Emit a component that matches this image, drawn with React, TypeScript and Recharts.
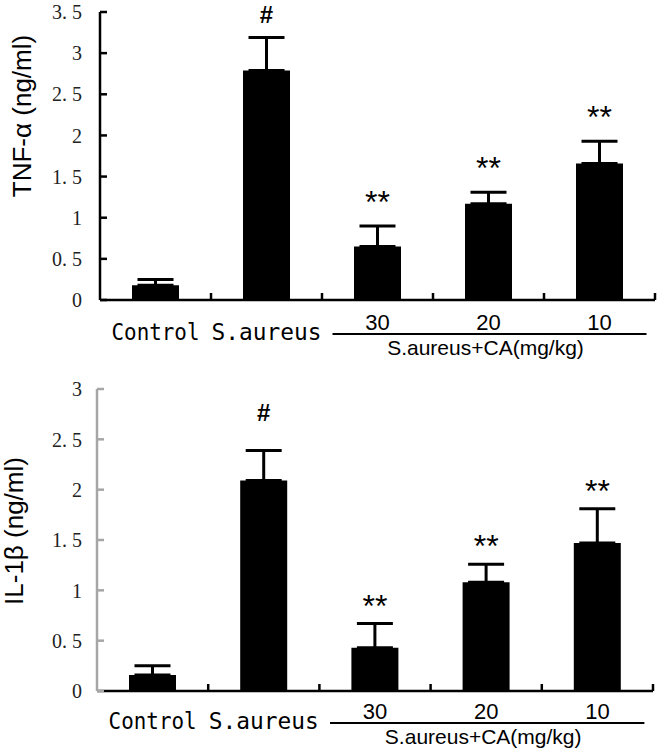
import React from "react";
import {
  ComposedChart,
  Bar,
  Line,
  ErrorBar,
  XAxis,
  YAxis,
  LabelList,
} from "recharts";

// groups on the x axis
const categories = ["Control", "S.aureus", "30", "20", "10"];
const groupLabel = "S.aureus+CA(mg/kg)";

// TNF-α panel
const tnfMean = [0.18, 2.79, 0.65, 1.17, 1.66];
const tnfErr = [0.07, 0.4, 0.25, 0.14, 0.27];
const tnfMarks = ["", "#", "**", "**", "**"];
const tnfTicks = [0, 0.5, 1, 1.5, 2, 2.5, 3, 3.5];

// IL-1β panel
const il1Mean = [0.16, 2.09, 0.43, 1.08, 1.47];
const il1Err = [0.09, 0.3, 0.24, 0.18, 0.34];
const il1Marks = ["", "#", "**", "**", "**"];
const il1Ticks = [0, 0.5, 1, 1.5, 2, 2.5, 3];

const buildRows = (mean: number[], err: number[], marks: string[]) =>
  categories.map((name, i) => ({
    name,
    value: mean[i],
    err: [0, err[i]],
    top: mean[i] + err[i],
    mark: marks[i],
  }));

// x tick: label, separator tick, and the bracket under the dose groups
const CategoryTick = (props: any) => {
  const { x, y, payload, index, band, nameDy, numDy, lineDy, groupDy } = props;
  const v = String(payload.value);
  const half = band / 2;
  const isName = index < 2;
  return (
    <g>
      <line x1={x + half} x2={x + half} y1={y} y2={y - 7} stroke="#000" strokeWidth={2.5} />
      {isName ? (
        <text
          x={x}
          y={y + nameDy}
          textAnchor="middle"
          fontFamily="'DejaVu Sans Mono', monospace"
          fontSize={23}
          textLength={v.length === 7 ? 88 : 110}
          lengthAdjust="spacingAndGlyphs"
          fill="#000"
        >
          {v}
        </text>
      ) : (
        <text
          x={x}
          y={y + numDy}
          textAnchor="middle"
          fontFamily="'Liberation Sans', Arial, sans-serif"
          fontSize={22}
          fill="#000"
        >
          {v}
        </text>
      )}
      {index === 3 && (
        <g>
          <line
            x1={x - band - 45}
            x2={x + band + 47}
            y1={y + lineDy}
            y2={y + lineDy}
            stroke="#000"
            strokeWidth={2}
          />
          <text
            x={x - 3}
            y={y + groupDy}
            textAnchor="middle"
            fontFamily="'Liberation Sans', Arial, sans-serif"
            fontSize={21}
            fill="#000"
          >
            {groupLabel}
          </text>
        </g>
      )}
    </g>
  );
};

const ValueTick = (props: any) => {
  const { x, y, payload, gap, color } = props;
  const parts = String(payload.value).split(".");
  return (
    <g>
      <line x1={x} x2={x + 7} y1={y} y2={y} stroke={color} strokeWidth={2.5} />
      <text
        x={x - gap}
        y={y}
        dy="0.36em"
        textAnchor="end"
        fontFamily="'Liberation Serif', serif"
        fontSize={20}
        fill="#222"
      >
        {parts.length > 1 ? (
          <>
            {parts[0] + "."}
            <tspan dx={5}>{parts[1]}</tspan>
          </>
        ) : (
          parts[0]
        )}
      </text>
    </g>
  );
};

const AxisTitle = (props: any) => {
  const { text, cx, cy } = props;
  return (
    <text
      x={cx}
      y={cy}
      transform={`rotate(-90 ${cx} ${cy})`}
      textAnchor="middle"
      dominantBaseline="central"
      fontFamily="'Liberation Sans', Arial, sans-serif"
      fontSize={26}
      fill="#000"
    >
      {text}
    </text>
  );
};

const markContent = (hashOff: number, starOff: number) => (props: any) => {
  const { x, y, value } = props;
  if (!value) return null;
  if (value === "#") {
    return (
      <text x={x} y={y - hashOff + 8.5} textAnchor="middle" fontFamily="'Liberation Sans', Arial, sans-serif" fontSize={24} fontWeight="bold" fill="#000">
        {value}
      </text>
    );
  }
  return (
    <text x={x} y={y - starOff + 18} textAnchor="middle" fontFamily="'Liberation Sans', Arial, sans-serif" fontSize={32} fill="#000">
      {value}
    </text>
  );
};

interface PanelProps {
  rows: any[];
  ticks: number[];
  title: string;
  height: number;
  top: number;
  left: number;
  right: number;
  xHeight: number;
  yColor: string;
  tickGap: number;
  titleX: number;
  titleY: number;
  hashOff: number;
  starOff: number;
  nameDy: number;
  numDy: number;
  lineDy: number;
  groupDy: number;
}

const Panel = (p: PanelProps) => {
  const band = (661 - p.left - p.right) / categories.length;
  return (
    <ComposedChart
      width={661}
      height={p.height}
      data={p.rows}
      margin={{ top: p.top, right: p.right, bottom: 0, left: 0 }}
    >
      <XAxis
        dataKey="name"
        height={p.xHeight}
        axisLine={{ stroke: "#000", strokeWidth: 2.5 }}
        tickLine={false}
        tickSize={0}
        tickMargin={0}
        interval={0}
        tick={(t: any) => (
          <CategoryTick
            {...t}
            band={band}
            nameDy={p.nameDy}
            numDy={p.numDy}
            lineDy={p.lineDy}
            groupDy={p.groupDy}
          />
        )}
      />
      <YAxis
        width={p.left}
        domain={[0, p.ticks[p.ticks.length - 1]]}
        ticks={p.ticks}
        interval={0}
        axisLine={{ stroke: p.yColor, strokeWidth: 2.5 }}
        tickLine={false}
        tickSize={0}
        tickMargin={0}
        tick={(t: any) => <ValueTick {...t} gap={p.tickGap} color={p.yColor} />}
        label={<AxisTitle text={p.title} cx={p.titleX} cy={p.titleY} />}
      />
      <Bar dataKey="value" fill="#000" barSize={47} isAnimationActive={false}>
        <ErrorBar
          dataKey="err"
          direction="y"
          width={18}
          stroke="#000"
          strokeWidth={3}
          isAnimationActive={false}
        />
      </Bar>
      <Line
        dataKey="top"
        stroke="none"
        dot={false}
        activeDot={false}
        legendType="none"
        isAnimationActive={false}
      >
        <LabelList dataKey="mark" content={markContent(p.hashOff, p.starOff)} />
      </Line>
    </ComposedChart>
  );
};

export default function App() {
  return (
    <div style={{ position: "absolute", left: 0, top: 0, width: 661, height: 756, background: "#fff" }}>
      <Panel
        rows={buildRows(tnfMean, tnfErr, tnfMarks)}
        ticks={tnfTicks}
        title="TNF-α (ng/ml)"
        height={376}
        top={12}
        left={100}
        right={6}
        xHeight={76}
        yColor="#000"
        tickGap={18}
        titleX={22}
        titleY={116}
        hashOff={23}
        starOff={31}
        nameDy={40}
        numDy={30}
        lineDy={34}
        groupDy={55}
      />
      <Panel
        rows={buildRows(il1Mean, il1Err, il1Marks)}
        ticks={il1Ticks}
        title="IL-1β (ng/ml)"
        height={380}
        top={13}
        left={97}
        right={8}
        xHeight={65}
        yColor="#a6a6a6"
        tickGap={15}
        titleX={14}
        titleY={155}
        hashOff={38}
        starOff={25}
        nameDy={38}
        numDy={28}
        lineDy={32}
        groupDy={53}
      />
    </div>
  );
}
